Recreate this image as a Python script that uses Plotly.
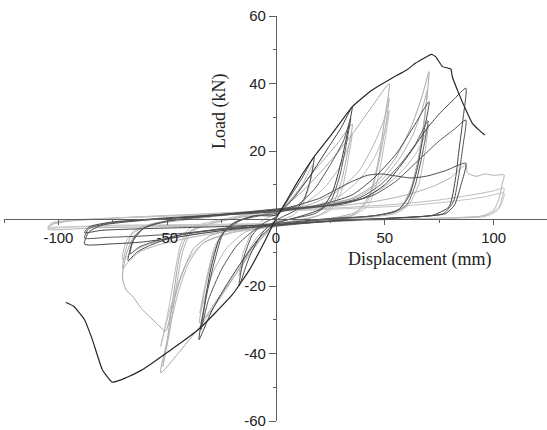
import plotly.graph_objects as go

# ---------------- data (displacement mm, load kN) ----------------
# dark specimen: monotonic envelope
DARK_ENV = [(-96.6, -24.9), (-93, -26), (-88, -30), (-84.4, -35.9), (-79.8, -44.8), (-75.2, -48.5),
            (-69, -47.2), (-62, -45), (-56.8, -42.8), (-49.2, -39.3), (-42, -36), (-35, -32.5),
            (-28, -28), (-20, -22.5), (-12, -15), (-5, -6.5), (0, 0), (5, 5.5), (10, 11),
            (17.5, 18.3), (25, 24.5), (35, 33.1), (44, 38), (53, 41.5), (60, 44), (64, 46),
            (68, 47.5), (71.4, 48.6), (73.4, 47.9), (76.5, 45), (80.3, 44.3), (81, 42), (84, 37),
            (87.2, 32.2), (90.2, 28.2), (93.3, 26.2), (96, 24.7)]

# dark specimen: cyclic loops
DARK_L17 = [(0, 0.5), (6, 6), (12, 12), (17.5, 18.3), (16, 12), (13, 6), (9, 2.5), (3, 0.5), (0, -0.5),
            (-6, -4), (-12, -11), (-17, -20), (-15, -12), (-11, -5), (-6, -1.5), (0, 0.5)]
DARK_L35A = [(0, 1), (8, 6), (16, 13), (24, 21), (30, 27), (35, 33.1), (33, 26), (30, 17), (26, 8),
             (21, 3), (12, 0.8), (0, -1.5), (-8, -6), (-16, -13), (-24, -21), (-30, -28),
             (-35.4, -35.9), (-33, -26), (-30, -15), (-26, -6), (-20, -1.5), (-10, 0.8), (0, 1)]
DARK_L35B = [(0, 1.5), (10, 4), (18, 9), (25, 16), (31, 23), (34.3, 29.7), (32, 21), (29, 12), (25, 5),
             (18, 1.5), (8, 0), (0, -1.2), (-10, -3.5), (-18, -8), (-25, -15), (-31, -24), (-34.5, -33),
             (-32, -23), (-28, -12), (-24, -4), (-16, -0.5), (-6, 1), (0, 1.5)]
DARK_L70A = [(0, 2), (20, 4), (35, 7), (45, 12), (55, 19), (63, 27), (70.3, 34.6), (68, 26), (65, 15),
             (61, 6.5), (56, 2.5), (45, 0.8), (25, 0), (0, -1.5), (-25, -3), (-45, -5), (-58, -8),
             (-64, -10), (-68, -12.5), (-66, -7), (-61, -3), (-50, -0.8), (-30, 0.8), (0, 2)]
DARK_L70B = [(0, 2.2), (20, 3.5), (38, 6), (48, 10), (57, 16), (64, 22), (69.8, 29), (67.5, 20), (64, 10),
             (60, 4), (54, 1.8), (40, 0.5), (20, -0.5), (0, -1.8), (-25, -3.2), (-45, -5), (-57, -7),
             (-63, -8.5), (-67, -10.5), (-65, -5.5), (-60, -2.5), (-48, -0.5), (-25, 1), (0, 2.2)]
DARK_L87A = [(0, 2.5), (25, 4), (40, 6), (50, 10), (60, 18), (68.8, 26.2), (75, 31), (82, 35.5),
             (87.2, 38.6), (86, 30), (84, 20), (82.6, 12.4), (79.5, 3.5), (72, 1), (50, 0), (20, -1),
             (0, -2), (-20, -3.2), (-35, -4.5), (-50, -6), (-62, -7), (-75, -7.5), (-88, -7.6), (-86, -4),
             (-80, -2), (-60, -0.5), (-30, 0.8), (0, 2.5)]
DARK_L87B = [(0, 2.8), (30, 4.2), (45, 7), (55, 11), (65, 17), (75, 23), (82, 26.5), (87.2, 29.2),
             (86, 22), (84, 13), (81.5, 5), (77, 1.5), (55, 0.2), (25, -0.8), (0, -2.2), (-25, -3.2),
             (-45, -4.5), (-62, -5.2), (-78, -5.6), (-88, -5.8), (-86, -3), (-78, -1.5), (-55, 0),
             (-25, 1.2), (0, 2.8)]
DARK_L87C = [(0, 2.5), (10, 4), (20, 6), (27.4, 8.5), (35, 11), (42, 12.8), (48.8, 13.2), (55, 12.6),
             (62, 12), (69.5, 12.6), (78, 14.2), (87.2, 16.4), (85, 10), (82, 4), (78, 1.5), (60, 0.3),
             (30, -0.5), (0, -1.8), (-30, -2.5), (-60, -3), (-80, -3.5), (-88, -4.2), (-86, -2.5),
             (-75, -1), (-50, 0), (-20, 1.5), (0, 2.5)]

# light specimen: cyclic loops
GRAY_L17 = [(0, 1.5), (6, 5), (12, 10), (17, 16), (15, 9), (12, 4), (8, 1), (0, -1), (-8, -5),
            (-13, -10), (-17, -17), (-15, -10), (-11, -4), (-6, -0.5), (0, 1.5)]
GRAY_L35A = [(0, 0.5), (10, 8), (20, 16), (28, 22), (35, 28), (33, 20), (30, 11), (26, 4), (20, 1),
             (10, -0.5), (0, -1.8), (-8, -7), (-18, -16), (-27, -24), (-35, -31), (-33, -22), (-29, -11),
             (-24, -3.5), (-16, -0.3), (-6, 1.2), (0, 2)]
GRAY_L35B = [(0, 2), (12, 4), (22, 9), (29, 15), (33, 21), (35, 25), (33, 17), (30, 8), (25, 2.5),
             (15, 0), (0, -2), (-14, -4), (-23, -9), (-29, -16), (-33, -24), (-35, -28), (-32, -18),
             (-28, -8), (-22, -2.5), (-12, 0.5), (0, 2)]
GRAY_L52A = [(0, 2), (12, 8), (25, 17), (35, 25), (45, 34), (52, 40), (50, 30), (47, 17), (43, 7),
             (37, 2), (25, 0), (10, -1), (0, -2), (-10, -8), (-22, -20), (-35, -32), (-45, -40),
             (-53, -45.7), (-50, -36), (-47, -22), (-44, -10), (-40, -4), (-30, -1.5), (-15, 0.5), (0, 2)]
GRAY_L52B = [(0, 2.5), (15, 4), (28, 8), (38, 14), (45, 22), (50, 30), (52, 35.6), (50, 26), (46, 13),
             (42, 5), (35, 1), (20, -0.3), (0, -2.2), (-20, -4), (-33, -7), (-40, -13), (-45, -22),
             (-49, -33), (-52, -43.8), (-49, -34), (-46, -21), (-43, -10), (-39, -4), (-30, -1.5),
             (-15, 0.8), (0, 2.5)]
GRAY_L52C = [(0, 2.5), (18, 3.8), (30, 7), (39, 12), (46, 19), (50, 26), (52, 32), (50, 23), (46.5, 11),
             (42.5, 4), (35, 0.8), (20, -0.5), (0, -2.4), (-20, -4.2), (-34, -7.5), (-41, -13),
             (-46, -21), (-50, -30), (-53, -37.9), (-50, -29), (-47, -18), (-44, -8), (-40, -3),
             (-30, -1), (-15, 1), (0, 2.5)]
GRAY_L70A = [(0, 2.5), (20, 4), (35, 6), (45, 10), (55, 18), (62, 27), (67, 36), (70.3, 43.5), (69, 34),
             (66, 20), (62, 9), (57, 3), (48, 1), (30, 0), (0, -2), (-20, -3.5), (-30, -5), (-38, -9),
             (-44, -18), (-48, -27), (-50.7, -33.4), (-55, -31), (-61.4, -27), (-66, -23), (-69, -21),
             (-70.6, -17.6), (-69, -11), (-65, -5), (-58, -2), (-40, -0.3), (-20, 1.2), (0, 2.5)]
GRAY_L70B = [(0, 2.8), (22, 4), (38, 6.5), (48, 11), (57, 18), (63, 25), (67, 32), (69.5, 38),
             (68, 28), (65, 16), (61, 7), (56, 2.5), (45, 0.8), (25, -0.3), (0, -2.2), (-25, -4),
             (-42, -6), (-55, -8), (-63, -10), (-68, -13), (-70.6, -15), (-69, -9), (-66, -4.5),
             (-58, -1.8), (-40, 0), (-20, 1.4), (0, 2.8)]
GRAY_L70C = [(0, 2.6), (25, 3.6), (40, 6), (50, 9.5), (58, 14), (64, 19), (68, 24), (70, 28), (68.5, 20),
             (65.5, 10), (61, 4), (55, 1.5), (40, 0.2), (0, -2), (-25, -3.5), (-45, -5.5), (-58, -7.5),
             (-65, -9.5), (-70.6, -12.2), (-69, -7), (-65, -3.5), (-55, -1.2), (-35, 0.3), (0, 2.6)]
GRAY_L105A = [(0, 2.5), (25, 3.5), (45, 5), (60, 7), (72, 9.5), (80, 12), (87.2, 15.9), (88, 13.5),
              (92, 12.5), (96, 13.2), (100, 12.8), (104.8, 12.9), (104, 10.5), (102.5, 6), (100, 2.5),
              (95, 0.8), (70, 0), (35, -0.6), (0, -1.8), (-30, -2.3), (-60, -2.5), (-85, -2.8),
              (-104.8, -3.2), (-103, -1.8), (-95, -0.8), (-70, 0.3), (-35, 1.3), (0, 2.5)]
GRAY_L105B = [(0, 2.3), (30, 3.2), (55, 4.2), (75, 5.5), (90, 7), (100, 8.2), (104.8, 9), (104, 6.5),
              (102.5, 3.5), (97.6, 1), (80, 0.2), (45, -0.4), (0, -1.6), (-35, -2), (-70, -2.2),
              (-95, -2.5), (-104.8, -2.8), (-103, -1.4), (-92, -0.5), (-60, 0.5), (-30, 1.3), (0, 2.3)]
GRAY_L105C = [(0, 2.1), (35, 3), (60, 3.8), (80, 5), (95, 6.3), (104.8, 7.5), (104, 5), (102, 2.5),
              (96, 0.6), (75, 0), (40, -0.5), (0, -1.4), (-40, -1.8), (-75, -2), (-104.8, -2.4),
              (-102.5, -1.2), (-90, -0.3), (-55, 0.6), (-25, 1.3), (0, 2.1)]

X_TICKS = [-100, -50, 0, 50, 100]
X_LABELS = ["-100", "-50", "0", "50", "100"]
Y_TICKS = [-60, -40, -20, 20, 40, 60]
Y_LABELS = ["-60", "-40", "-20", "20", "40", "60"]
X_TITLE = "Displacement (mm)"
Y_TITLE = "Load (kN)"

# ---------------- figure ----------------
fig = go.Figure()

gray_loops = [
    (GRAY_L17, "#b4b4b4"), (GRAY_L35A, "#aaaaaa"), (GRAY_L35B, "#b8b8b8"),
    (GRAY_L52A, "#a8a8a8"), (GRAY_L52B, "#b4b4b4"), (GRAY_L52C, "#bcbcbc"),
    (GRAY_L70A, "#a4a4a4"), (GRAY_L70B, "#b0b0b0"), (GRAY_L70C, "#bababa"),
    (GRAY_L105A, "#b0b0b0"), (GRAY_L105B, "#bcbcbc"), (GRAY_L105C, "#c4c4c4"),
]
dark_loops = [
    (DARK_L17, "#4a4a4a"), (DARK_L35A, "#3c3c3c"), (DARK_L35B, "#555555"),
    (DARK_L70A, "#4a4a4a"), (DARK_L70B, "#5a5a5a"), (DARK_L87A, "#444444"),
    (DARK_L87B, "#555555"), (DARK_L87C, "#4a4a4a"),
]

for pts, col in gray_loops + dark_loops:
    fig.add_trace(go.Scatter(
        x=[p[0] for p in pts], y=[p[1] for p in pts], mode="lines",
        line=dict(color=col, width=1.0, shape="spline", smoothing=0.6),
        hoverinfo="skip", showlegend=False))

fig.add_trace(go.Scatter(
    x=[p[0] for p in DARK_ENV], y=[p[1] for p in DARK_ENV], mode="lines",
    line=dict(color="#262626", width=1.2, shape="spline", smoothing=0.4),
    hoverinfo="skip", showlegend=False))

XR = [-125, 124.5]
YR = [-60, 60]
ML, MR, MT, MB = 4, 0, 16, 9
W, H = 547, 430
pw, ph = W - ML - MR, H - MT - MB


def px_to_paper(px, py):
    return (px - ML) / pw, 1 - (py - MT) / ph


xt_x, xt_y = px_to_paper(419, 259)
yt_x, yt_y = px_to_paper(219, 112)

fig.update_layout(
    width=W, height=H,
    margin=dict(l=ML, r=MR, t=MT, b=MB, autoexpand=False),
    paper_bgcolor="white", plot_bgcolor="white",
    font=dict(family="Liberation Sans, Arial", size=15, color="#222222"),
    xaxis=dict(range=XR, showgrid=False, zeroline=False, showline=True, automargin=False,
               linecolor="#606060", linewidth=1.3,
               anchor="free", position=(0 - YR[0]) / (YR[1] - YR[0]),
               ticks="outside", ticklen=5, tickwidth=1.2, tickcolor="#606060",
               tickvals=X_TICKS, ticktext=X_LABELS,
               minor=dict(dtick=25, tick0=0, ticks="outside", ticklen=3, tickcolor="#606060"),
               tickfont=dict(size=15, color="#222222")),
    yaxis=dict(range=YR, showgrid=False, zeroline=False, showline=True, automargin=False,
               linecolor="#606060", linewidth=1.3,
               anchor="free", position=(0 - XR[0]) / (XR[1] - XR[0]),
               ticks="outside", ticklen=7, tickwidth=1.2, tickcolor="#606060",
               tickvals=Y_TICKS, ticktext=Y_LABELS,
               minor=dict(dtick=10, tick0=0, ticks="outside", ticklen=3, tickcolor="#606060"),
               tickfont=dict(size=15, color="#222222")),
    annotations=[
        dict(text=X_TITLE, x=xt_x, y=xt_y, xref="paper", yref="paper", showarrow=False,
             xanchor="center", yanchor="middle",
             font=dict(family="Liberation Serif, Times New Roman", size=18, color="#222222")),
        dict(text=Y_TITLE, x=yt_x, y=yt_y, xref="paper", yref="paper", showarrow=False,
             xanchor="center", yanchor="middle", textangle=-90,
             font=dict(family="Liberation Serif, Times New Roman", size=18, color="#222222")),
    ],
)

fig.write_html("out.html",
               config={"displayModeBar": False},
               post_script="document.body.style.margin='0';document.body.style.padding='0';")
